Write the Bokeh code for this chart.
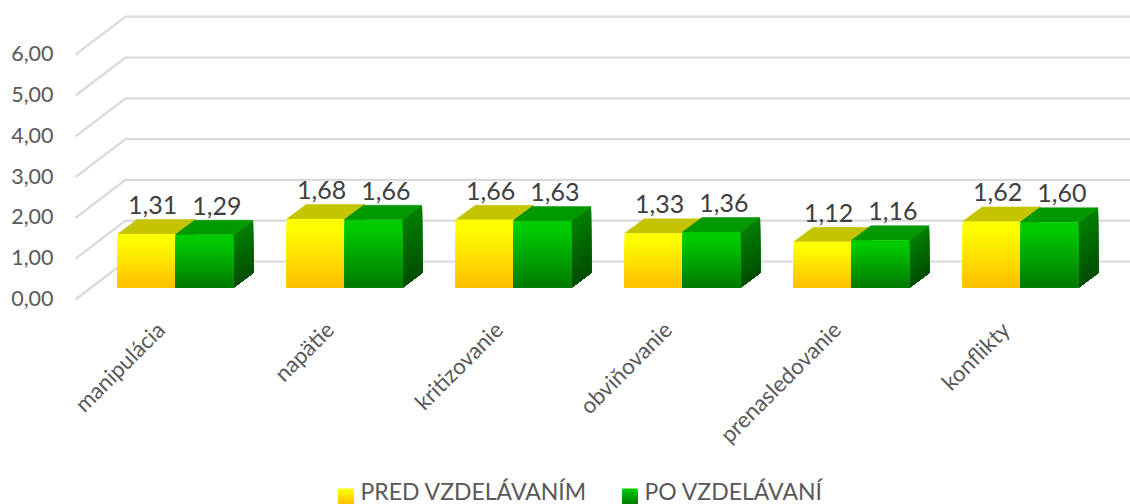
from bokeh.plotting import figure
from bokeh.embed import file_html
from bokeh.resources import INLINE
from bokeh.core.properties import value
from bokeh.models import Range1d, Label

categories = ["manipulácia", "napätie", "kritizovanie", "obviňovanie", "prenasledovanie", "konflikty"]
pred = [1.31, 1.68, 1.66, 1.33, 1.12, 1.62]
po = [1.29, 1.66, 1.63, 1.36, 1.16, 1.60]
pred_labels = ["1,31", "1,68", "1,66", "1,33", "1,12", "1,62"]
po_labels = ["1,29", "1,66", "1,63", "1,36", "1,16", "1,60"]
y_ticks = [0, 1, 2, 3, 4, 5, 6]
y_tick_labels = ["0,00", "1,00", "2,00", "3,00", "4,00", "5,00", "6,00"]
series_names = ["PRED VZDELÁVANÍM", "PO VZDELÁVANÍ"]

W, H = 1130, 504
X0, DX = 175.0, 169.0      # pixel of first category centre, pixels per category
Y0, DY = 287.0, 40.8       # pixel of value 0 at the bar front, pixels per unit
def xd(px): return (px - X0) / DX
def yd(py): return (Y0 - py) / DY
ux, uy = 1 / DX, 1 / DY

p = figure(width=W, height=H, output_backend="svg", toolbar_location=None,
           x_range=Range1d(xd(0), xd(W)), y_range=Range1d(yd(H), yd(0)),
           min_border=0, outline_line_color=None, background_fill_color="white",
           border_fill_color="white")
p.margin = (0, 0, 0, 0)
p.xaxis.visible = False
p.yaxis.visible = False
p.grid.visible = False

FONT = value("Lato")

# oblique back wall / floor gridlines
gx_front, gx_back = xd(75), xd(125)
back_rise = (Y0 - 261) / DY
front_drop = (299 - Y0) / DY
for t in y_ticks:
    p.line([gx_front, gx_back, xd(W)],
           [t - front_drop, t + back_rise, t + back_rise],
           line_color="#D9D9D9", line_width=2.2)

def lerp(c1, c2, f):
    return "#%02x%02x%02x" % tuple(round(a + (b - a) * f) for a, b in zip(c1, c2))

BW = 57.8 * ux             # bar width
DEPX, DEPY = 19.5 * ux, 14.5 * uy
N = 24
YEL = ((255, 255, 0), (255, 192, 0))
GRN = ((0, 204, 0), (0, 122, 0))
SIDE = ((0, 128, 0), (0, 77, 0))

def bar(xl, v, grad, top_col):
    xr = xl + BW
    # side face, painted from full height downward
    for i in range(N + 1):
        f = 1 - i / N
        col = lerp(SIDE[0], SIDE[1], i / N)
        ytop = v * f
        p.patch([xr, xr + DEPX, xr + DEPX, xr],
                [0, DEPY, ytop + DEPY, ytop],
                fill_color=col, line_color=col, line_width=0.5)
    # top face
    p.patch([xl, xl + DEPX, xr + DEPX, xr],
            [v, v + DEPY, v + DEPY, v],
            fill_color=top_col, line_color=top_col, line_width=0.5)
    # front face, painted from full height downward so strips leave no seams
    for i in range(N):
        f = 1 - i / N
        col = lerp(grad[0], grad[1], max(0.0, (i / (N - 1) - 0.1) / 0.9))
        p.quad(left=xl, right=xr, bottom=0, top=v * f,
               fill_color=col, line_color=None)

for i in range(len(categories)):
    bar(i - BW, pred[i], YEL, "#C4C400")
for i in range(len(categories)):
    bar(i, po[i], GRN, "#009900")

# data labels
p.text(x=[i - BW / 2 + 6 * ux for i in range(6)],
       y=[v + DEPY + 14.5 * uy for v in pred], text=pred_labels,
       text_font=FONT, text_font_size="25px", text_color="#404040",
       text_align="center", text_baseline="middle")
p.text(x=[i + BW / 2 + 12.5 * ux for i in range(6)],
       y=[v + DEPY + 14.5 * uy for v in po], text=po_labels,
       text_font=FONT, text_font_size="25px", text_color="#404040",
       text_align="center", text_baseline="middle")

# value axis labels
p.text(x=[xd(53)] * 7, y=[t - 11 * uy for t in y_ticks], text=y_tick_labels,
       text_font=FONT, text_font_size="21.5px", text_color="#595959",
       text_align="right", text_baseline="middle")

# category labels
p.text(x=[i - 15 * ux for i in range(6)], y=[yd(325)] * 6, text=categories,
       text_font=FONT, text_font_size="22.4px", text_color="#595959",
       text_align="right", text_baseline="middle", angle=0.785)

# legend
def swatch(px, grad):
    l, r = xd(px), xd(px + 15)
    t, b = yd(488), yd(504)
    for i in range(N):
        f = 1 - i / N
        col = lerp(grad[0], grad[1], i / (N - 1))
        p.quad(left=l, right=r, bottom=b, top=b + (t - b) * f, fill_color=col, line_color=None)

swatch(338, YEL)
swatch(622, GRN)
p.add_layout(Label(x=360, y=H - 490, x_units="screen", y_units="screen", text=series_names[0],
                   text_font="Lato", text_font_size="23px", text_color="#595959",
                   text_baseline="middle"))
p.add_layout(Label(x=644, y=H - 490, x_units="screen", y_units="screen", text=series_names[1],
                   text_font="Lato", text_font_size="23px", text_color="#595959",
                   text_baseline="middle"))

open("out.html", "w").write(file_html(p, INLINE))
